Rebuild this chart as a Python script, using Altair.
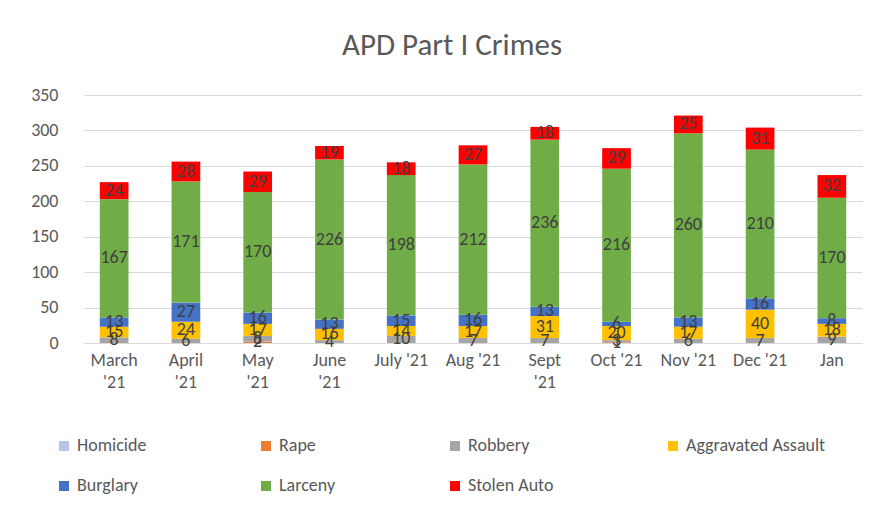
import altair as alt
import pandas as pd

months = ["March|'21", "April|'21", "May|'21", "June|'21", "July '21", "Aug '21",
          "Sept|'21", "Oct '21", "Nov '21", "Dec '21", "Jan"]
categories = ["Homicide", "Rape", "Robbery", "Aggravated Assault", "Burglary", "Larceny", "Stolen Auto"]
colors = ["#b4c7e7", "#ed7d31", "#a5a5a5", "#ffc000", "#4472c4", "#70ad47", "#ff0000"]
y_ticks = [0, 50, 100, 150, 200, 250, 300, 350]

homicide = [0, 0, 0, 0, 0, 0, 0, 0, 0, 0, 0]
rape = [0, 0, 2, 0, 0, 0, 0, 1, 0, 0, 0]
robbery = [8, 6, 8, 4, 10, 7, 7, 3, 6, 7, 9]
agg_assault = [15, 24, 17, 16, 14, 17, 31, 20, 17, 40, 18]
burglary = [13, 27, 16, 13, 15, 16, 13, 6, 13, 16, 8]
larceny = [167, 171, 170, 226, 198, 212, 236, 216, 260, 210, 170]
stolen_auto = [24, 28, 29, 19, 18, 27, 18, 29, 25, 31, 32]

series = [homicide, rape, robbery, agg_assault, burglary, larceny, stolen_auto]
rows = []
for ci, (cat, vals) in enumerate(zip(categories, series)):
    for mi, (m, v) in enumerate(zip(months, vals)):
        rows.append({"month": m, "category": cat, "value": v, "order": ci})
df = pd.DataFrame(rows)

FONT = "Carlito, Lato, sans-serif"

base = alt.Chart(df).transform_stack(
    stack="value", groupby=["month"], as_=["y0", "y1"], sort=[alt.SortField("order")]
).transform_calculate(mid="(datum.y0 + datum.y1) / 2")

x_axis = alt.Axis(labelExpr="split(datum.value, '|')", labelAngle=0, labelFontSize=18,
                  labelColor="#595959", labelFont=FONT, ticks=False, domainColor="#d9d9d9",
                  labelPadding=8, labelLineHeight=22)
x_scale = alt.Scale(paddingInner=0.6, paddingOuter=0.22)
y_axis = alt.Axis(values=y_ticks, labelFontSize=18, labelOverlap=False,
                  labelColor="#595959", labelFont=FONT, ticks=False, domain=False,
                  gridColor="#d9d9d9", labelPadding=26)
y_scale = alt.Scale(domain=[0, 350], nice=False)

bars = base.mark_bar().encode(
    x=alt.X("month:N", sort=months, title=None, scale=x_scale, axis=x_axis),
    y=alt.Y("y0:Q", title=None, scale=y_scale, axis=y_axis),
    y2="y1:Q",
    color=alt.Color("category:N", sort=categories,
                    scale=alt.Scale(domain=categories, range=colors),
                    legend=alt.Legend(title=None, orient="none", legendX=-29, legendY=342,
                                      columns=4, direction="horizontal", symbolType="square",
                                      symbolSize=100, symbolStrokeWidth=0, labelFontSize=18,
                                      labelColor="#595959", labelFont=FONT, columnPadding=110,
                                      rowPadding=22, symbolOffset=0, labelOffset=4)),
)

texts = base.transform_filter("datum.value > 0").mark_text(
    fontSize=18, color="#404040", font=FONT
).encode(
    x=alt.X("month:N", sort=months, title=None, scale=x_scale, axis=x_axis),
    y=alt.Y("mid:Q", title=None, scale=y_scale, axis=y_axis),
    text="value:Q",
)

chart = alt.layer(bars, texts).properties(
    width=778, height=248,
    autosize=alt.AutoSizeParams(type="none"),
    padding={"left": 76, "top": 87, "right": 18, "bottom": 163},
    title=alt.TitleParams("APD Part I Crimes", fontSize=31, font=FONT, color="#595959",
                          fontWeight="normal", anchor="middle", dx=-21, offset=24),
).configure_view(stroke=None)

chart.save("out.html", embed_options={"renderer": "svg", "actions": False})
